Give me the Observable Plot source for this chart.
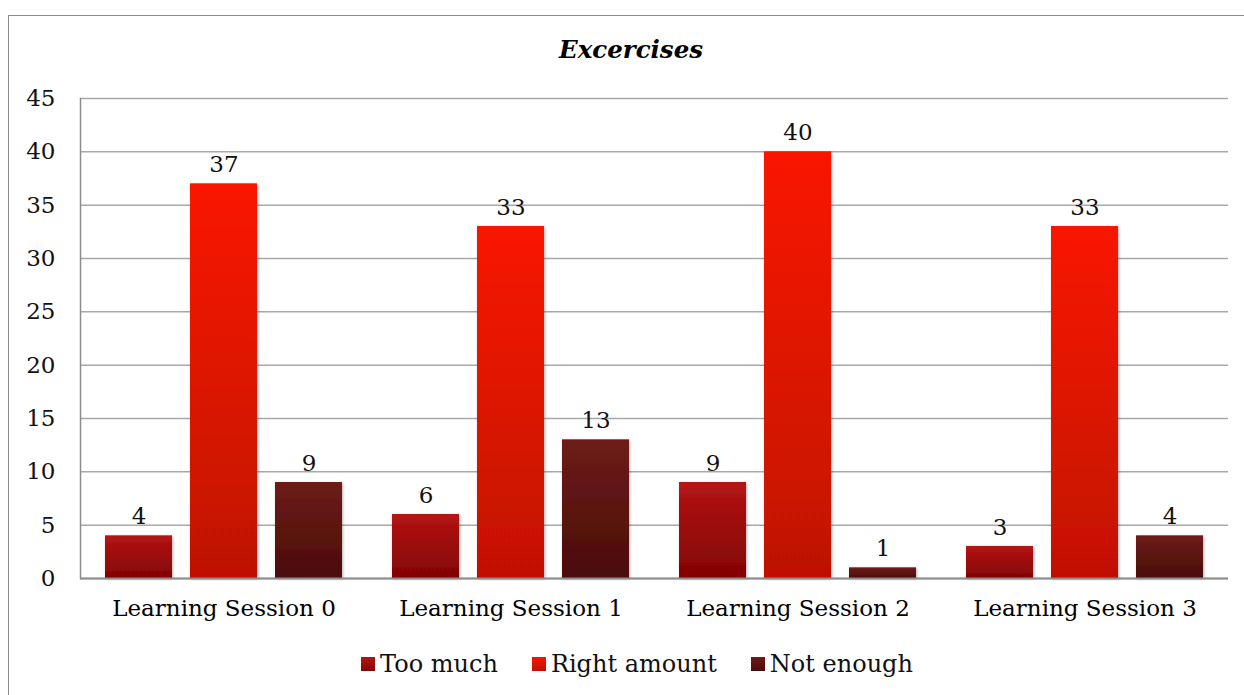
<!DOCTYPE html>
<html>
<head>
<meta charset="utf-8">
<script src="https://cdn.jsdelivr.net/npm/d3@7"></script>
<script src="https://cdn.jsdelivr.net/npm/@observablehq/plot@0.6"></script>
<style>
  html, body { margin: 0; padding: 0; background: #fff; overflow: hidden; }
  body { width: 1244px; height: 695px; position: relative; font-family: "DejaVu Serif", Georgia, serif; }
  #border { position: absolute; left: 8px; top: 15px; width: 1300px; height: 760px; border: 1.5px solid #8c8c8c; box-sizing: border-box; pointer-events: none; }
  #title { height: 72px; box-sizing: border-box; padding-top: 36px; padding-left: 18px; text-align: center; font-weight: bold; font-style: italic; font-size: 24.5px; line-height: 28px; color: #000; }
  #legend { display: flex; justify-content: center; align-items: center; padding-left: 30px; margin-top: 20px; font-size: 24px; line-height: 28px; color: #111; }
  .item { display: flex; align-items: center; margin: 0 17px; }
  .sw { width: 14px; height: 14px; margin-right: 5px; }
</style>
</head>
<body>
<div id="border"></div>
<div id="title">Excercises</div>
<div id="chart"></div>
<div id="legend"></div>
<script>
const sessions = ["Learning Session 0", "Learning Session 1", "Learning Session 2", "Learning Session 3"];
const series = ["Too much", "Right amount", "Not enough"];
const tooMuch = [4, 6, 9, 3];
const rightAmount = [37, 33, 40, 33];
const notEnough = [9, 13, 1, 4];
const yTicks = [0, 5, 10, 15, 20, 25, 30, 35, 40, 45];
const gradIds = ["gTooMuch", "gRight", "gNotEnough"];
const gradStops = [["#b41414", "#820404"], ["#f91700", "#c01100"], ["#6d1c17", "#4a0d0a"]];

const values = [tooMuch, rightAmount, notEnough];
const data = [];
sessions.forEach((s, i) => series.forEach((k, j) => data.push({session: s, series: k, value: values[j][i]})));

const plot = Plot.plot({
  width: 1244,
  height: 558,
  marginTop: 26,
  marginBottom: 52,
  marginLeft: 80,
  marginRight: 16,
  style: {fontFamily: "DejaVu Serif, Georgia, serif", fontSize: "23px", color: "#000", background: "transparent"},
  fx: {domain: sessions, padding: 0, label: null, tickSize: 0, tickPadding: 21},
  x: {domain: series, axis: null, paddingInner: 0.21, paddingOuter: 0.293},
  y: {domain: [0, 45], label: null},
  color: {domain: series, range: gradIds.map(id => `url(#${id})`)},
  marks: [
    Plot.gridY(yTicks, {stroke: "#a8a8a8", strokeOpacity: 1, strokeWidth: 1.5}),
    Plot.frame({anchor: "left", facetAnchor: "left", stroke: "#8c8c8c", strokeWidth: 1.5}),
    Plot.barY(data, {fx: "session", x: "series", y: "value", fill: "series"}),
    Plot.ruleY([0], {stroke: "#8c8c8c", strokeWidth: 2}),
    Plot.text(data, {fx: "session", x: "series", y: "value", text: d => String(d.value), lineAnchor: "bottom", dy: -12, fill: "#111"}),
    Plot.axisY(yTicks, {tickSize: 0, tickPadding: 25, label: null, fill: "#111"})
  ]
});

// gradient definitions + subtle shadow
const ns = "http://www.w3.org/2000/svg";
const defs = document.createElementNS(ns, "defs");
gradIds.forEach((id, i) => {
  const g = document.createElementNS(ns, "linearGradient");
  g.setAttribute("id", id);
  g.setAttribute("x1", "0"); g.setAttribute("y1", "0");
  g.setAttribute("x2", "0"); g.setAttribute("y2", "1");
  gradStops[i].forEach((c, k) => {
    const st = document.createElementNS(ns, "stop");
    st.setAttribute("offset", k === 0 ? "0" : "1");
    st.setAttribute("stop-color", c);
    g.appendChild(st);
  });
  defs.appendChild(g);
});
const f = document.createElementNS(ns, "filter");
f.setAttribute("id", "shadow");
f.setAttribute("x", "-20%"); f.setAttribute("y", "-20%");
f.setAttribute("width", "140%"); f.setAttribute("height", "140%");
const ds = document.createElementNS(ns, "feDropShadow");
ds.setAttribute("dx", "1"); ds.setAttribute("dy", "1");
ds.setAttribute("stdDeviation", "1.5");
ds.setAttribute("flood-color", "#000"); ds.setAttribute("flood-opacity", "0.3");
f.appendChild(ds);
defs.appendChild(f);
plot.insertBefore(defs, plot.firstChild);
plot.querySelectorAll("rect").forEach(r => {
  const fill = r.getAttribute("fill") || (r.parentNode && r.parentNode.getAttribute && r.parentNode.getAttribute("fill"));
  if (fill && fill.startsWith("url(")) r.setAttribute("filter", "url(#shadow)");
});
document.getElementById("chart").appendChild(plot);

// legend
const legend = document.getElementById("legend");
series.forEach((s, i) => {
  const item = document.createElement("div");
  item.className = "item";
  const sw = document.createElement("div");
  sw.className = "sw";
  sw.style.background = `linear-gradient(${gradStops[i][0]}, ${gradStops[i][1]})`;
  const t = document.createElement("span");
  t.textContent = s;
  item.appendChild(sw);
  item.appendChild(t);
  legend.appendChild(item);
});
</script>
</body>
</html>
